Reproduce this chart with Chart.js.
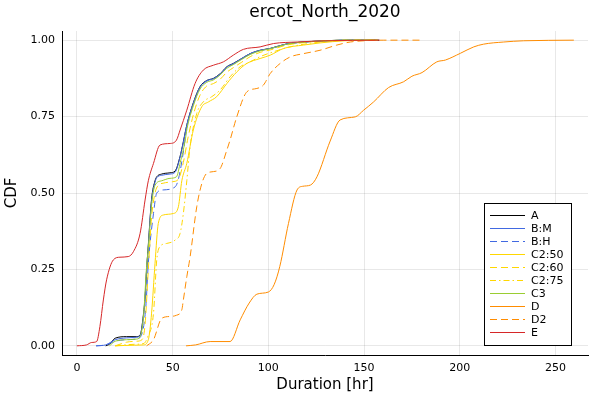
<!DOCTYPE html>
<html>
<head>
<meta charset="utf-8">
<script src="https://cdn.jsdelivr.net/npm/chart.js@4"></script>
<style>
html,body{margin:0;padding:0;background:#fff;}
#wrap{width:600px;height:400px;position:relative;}
</style>
</head>
<body>
<div id="wrap"><canvas id="c" width="600" height="400"></canvas></div>
<script>
const titleText = "ercot_North_2020";
const xTicks = [0, 50, 100, 150, 200, 250];
const yTicks = [0, 0.25, 0.5, 0.75, 1.0];

const seriesNames = ["A", "B:M", "B:H", "C2:50", "C2:60", "C2:75", "C3", "D", "D2", "E"];

const A_x = [15, 17, 20, 26, 31, 33, 34.7, 35.6, 36.4, 37.3, 39, 40.8, 41.7, 44.3, 48.6, 51.3, 53.9, 55.5, 57.5, 60.8, 64.3, 67.8, 71.3, 74.8, 78.3, 81.7, 86.1, 90.5, 95.7, 101, 109.7, 118.4, 127, 140, 158];
const A_y = [0, 0.005, 0.025, 0.03, 0.03, 0.035, 0.1, 0.16, 0.25, 0.33, 0.48, 0.54, 0.553, 0.562, 0.566, 0.572, 0.62, 0.665, 0.725, 0.795, 0.848, 0.868, 0.875, 0.89, 0.913, 0.924, 0.94, 0.956, 0.967, 0.973, 0.988, 0.994, 0.997, 1.0, 1.0];

const BM_x = [10, 15, 20, 26, 31, 33, 34.7, 35.6, 36.4, 37.3, 39, 40.8, 41.7, 44.3, 48.6, 51.3, 53.9, 55.5, 57.5, 60.8, 64.3, 67.8, 71.3, 74.8, 78.3, 81.7, 86.1, 90.5, 95.7, 101, 109.7, 118.4, 127, 140, 157];
const BM_y = [0, 0.003, 0.02, 0.026, 0.028, 0.033, 0.095, 0.155, 0.245, 0.325, 0.475, 0.535, 0.55, 0.558, 0.562, 0.568, 0.618, 0.663, 0.724, 0.793, 0.846, 0.867, 0.874, 0.889, 0.912, 0.923, 0.94, 0.956, 0.967, 0.973, 0.988, 0.994, 0.997, 1.0, 1.0];

const BH_x = [10, 15, 20, 26, 31, 34, 36, 37.3, 40, 41.7, 45, 51.3, 53, 55.5, 57.5, 60.8, 64.3, 67.8, 71.3, 74.8, 78.3, 81.7, 86.1, 90.5, 95.7, 101, 109.7, 118.4, 127, 140, 156];
const BH_y = [0, 0.003, 0.015, 0.02, 0.022, 0.04, 0.128, 0.27, 0.433, 0.5, 0.51, 0.52, 0.545, 0.63, 0.72, 0.79, 0.845, 0.866, 0.873, 0.888, 0.911, 0.922, 0.939, 0.955, 0.966, 0.972, 0.987, 0.994, 0.997, 1.0, 1.0];

const C250_x = [20, 30, 34.7, 37.3, 39, 40.8, 42.5, 45.1, 50.4, 53, 54.8, 57.4, 60.8, 65.2, 68.7, 73, 78.3, 83.5, 88.8, 95.7, 101, 108, 118.4, 127, 140, 157];
const C250_y = [0, 0.002, 0.003, 0.02, 0.107, 0.27, 0.4, 0.428, 0.433, 0.455, 0.54, 0.597, 0.706, 0.782, 0.798, 0.815, 0.858, 0.896, 0.924, 0.94, 0.951, 0.973, 0.984, 0.991, 0.998, 1];

const C260_x = [20, 26, 31, 34, 35.6, 37.3, 39, 40.8, 42.5, 45, 50, 53, 55.6, 58, 61, 64.3, 67.8, 71.3, 74.8, 78.3, 81.7, 86.1, 90.5, 95.7, 101, 109.7, 118.4, 130, 145, 157];
const C260_y = [0, 0.012, 0.015, 0.02, 0.07, 0.25, 0.42, 0.5, 0.525, 0.532, 0.537, 0.545, 0.6, 0.68, 0.76, 0.82, 0.85, 0.858, 0.872, 0.895, 0.91, 0.928, 0.946, 0.96, 0.968, 0.984, 0.992, 0.998, 1, 1];

const C275_x = [20, 30, 35, 37, 40, 41.7, 43.4, 46.9, 51.3, 53.9, 55.6, 57.4, 59.1, 62.6, 66, 70.4, 74.8, 80, 85.3, 90.5, 95.7, 102.7, 111.4, 122, 135, 145, 157];
const C275_y = [0, 0.005, 0.008, 0.03, 0.107, 0.281, 0.325, 0.335, 0.346, 0.368, 0.433, 0.54, 0.651, 0.76, 0.798, 0.815, 0.837, 0.88, 0.913, 0.929, 0.946, 0.962, 0.978, 0.99, 0.998, 1, 1];

const C3_x = [17, 20, 26, 31, 33, 34.7, 36.4, 37.3, 39, 40.8, 44.3, 48.6, 52, 54, 56.5, 57.5, 60.8, 64.3, 67.8, 71.3, 74.8, 78.3, 81.7, 86.1, 90.5, 95.7, 101, 109.7, 118.4, 127, 140, 157];
const C3_y = [0, 0.015, 0.02, 0.022, 0.03, 0.09, 0.26, 0.32, 0.46, 0.525, 0.54, 0.548, 0.553, 0.6, 0.67, 0.71, 0.785, 0.84, 0.862, 0.87, 0.886, 0.908, 0.92, 0.937, 0.953, 0.965, 0.972, 0.987, 0.994, 0.997, 1, 1];

const D_x = [57, 62, 69.6, 80, 85.3, 90, 94, 100, 103, 106, 110.5, 115, 118, 122, 125.4, 132.3, 137.5, 145.4, 149.8, 155, 162.8, 170.7, 175, 180.3, 188, 192.5, 200.3, 207.3, 212.5, 223, 233.4, 259.6];
const D_y = [0, 0.003, 0.014, 0.014, 0.085, 0.14, 0.169, 0.176, 0.2, 0.26, 0.4, 0.51, 0.522, 0.526, 0.553, 0.67, 0.739, 0.749, 0.771, 0.798, 0.845, 0.864, 0.882, 0.894, 0.929, 0.935, 0.957, 0.978, 0.987, 0.994, 0.998, 1.0];

const D2_x = [36.4, 40, 44.3, 48.6, 52, 54.8, 55.6, 57.4, 59.1, 62.6, 65.2, 67.8, 71.3, 74.8, 78.3, 80, 83.5, 88.8, 94, 97.4, 101, 106.2, 111.4, 118.4, 127, 135.8, 142.8, 150, 160, 181];
const D2_y = [0, 0.02, 0.09, 0.096, 0.1, 0.118, 0.15, 0.226, 0.29, 0.455, 0.53, 0.564, 0.57, 0.58, 0.64, 0.673, 0.749, 0.831, 0.842, 0.853, 0.891, 0.924, 0.945, 0.956, 0.967, 0.984, 0.994, 0.998, 1, 1];

const E_x = [0, 5, 7.7, 10.3, 12, 13.8, 15.5, 19, 22.5, 26.8, 29.5, 33, 35.6, 37.3, 40, 43.4, 48.6, 52, 53.9, 57.4, 61.7, 66, 71.3, 76.5, 81.7, 87, 95.7, 102.7, 115, 130, 158];
const E_y = [0, 0.003, 0.011, 0.014, 0.063, 0.15, 0.216, 0.281, 0.29, 0.292, 0.308, 0.368, 0.477, 0.54, 0.597, 0.657, 0.662, 0.673, 0.706, 0.771, 0.858, 0.902, 0.918, 0.929, 0.951, 0.97, 0.978, 0.989, 0.994, 0.998, 1.0];

function pts(xs, ys) { return xs.map((x, i) => ({x: x, y: ys[i]})); }

const FONT = "'DejaVu Sans', sans-serif";
const styles = [
  {c: '#000000', d: []},
  {c: '#4169E1', d: []},
  {c: '#4169E1', d: [7, 4]},
  {c: '#FFD700', d: []},
  {c: '#FFD700', d: [7, 4]},
  {c: '#FFD700', d: [6, 3, 1.5, 3]},
  {c: '#9ACD32', d: []},
  {c: '#FF8C00', d: []},
  {c: '#FF8C00', d: [7, 4]},
  {c: '#D62728', d: []}
];
const data = [
  [A_x, A_y], [BM_x, BM_y], [BH_x, BH_y], [C250_x, C250_y], [C260_x, C260_y],
  [C275_x, C275_y], [C3_x, C3_y], [D_x, D_y], [D2_x, D2_y], [E_x, E_y]
];

const datasets = seriesNames.map((n, i) => ({
  label: n,
  data: pts(data[i][0], data[i][1]),
  borderColor: styles[i].c,
  borderDash: styles[i].d,
  borderWidth: 1,
  pointRadius: 0,
  fill: false,
  order: seriesNames.length - i,
  cubicInterpolationMode: 'monotone'
}));

const legendPlugin = {
  id: 'boxLegend',
  afterDraw(chart) {
    const ctx = chart.ctx;
    const x0 = 484, y0 = 203, w = 87, h = 142;
    ctx.save();
    ctx.fillStyle = '#fff';
    ctx.fillRect(x0, y0, w, h);
    ctx.strokeStyle = '#000';
    ctx.lineWidth = 1;
    ctx.strokeRect(x0 + 0.5, y0 + 0.5, w, h);
    ctx.font = "11px " + FONT;
    ctx.textBaseline = 'middle';
    chart.data.datasets.forEach((ds, i) => {
      const y = 215 + i * 13;
      ctx.beginPath();
      ctx.strokeStyle = ds.borderColor;
      ctx.setLineDash(ds.borderDash || []);
      ctx.moveTo(490, y + 0.5);
      ctx.lineTo(525, y + 0.5);
      ctx.stroke();
      ctx.setLineDash([]);
      ctx.fillStyle = '#000';
      ctx.fillText(ds.label, 531, y + 1);
    });
    ctx.restore();
  }
};

const titlePlugin = {
  id: 'plotTitle',
  afterDraw(chart) {
    const ctx = chart.ctx;
    const a = chart.chartArea;
    ctx.save();
    ctx.font = "17px " + FONT;
    ctx.fillStyle = '#000';
    ctx.textAlign = 'center';
    ctx.textBaseline = 'middle';
    ctx.fillText(titleText, (a.left + a.right) / 2, 13);
    ctx.restore();
  }
};

new Chart(document.getElementById('c'), {
  type: 'line',
  data: {datasets: datasets},
  options: {
    responsive: false,
    animation: false,
    parsing: true,
    layout: {padding: {top: 31, right: 12, left: 0, bottom: 0}},
    plugins: {legend: {display: false}, tooltip: {enabled: false}, title: {display: false}},
    scales: {
      x: {
        type: 'linear',
        min: -7.8,
        max: 267,
        afterBuildTicks: s => { s.ticks = xTicks.map(v => ({value: v})); },
        afterFit: s => { s.height = 45; },
        grid: {color: 'rgba(0,0,0,0.09)', drawTicks: false},
        border: {color: '#000', width: 1},
        ticks: {color: '#000', font: {family: FONT, size: 11}, padding: 7, autoSkip: false, maxRotation: 0,
          callback: v => String(v)},
        title: {display: true, text: 'Duration [hr]', color: '#000', font: {family: FONT, size: 15}, padding: {top: 4, bottom: 6}}
      },
      y: {
        type: 'linear',
        min: -0.03,
        max: 1.03,
        afterBuildTicks: s => { s.ticks = yTicks.map(v => ({value: v})); },
        afterFit: s => { s.width = 62; },
        grid: {color: 'rgba(0,0,0,0.09)', drawTicks: false},
        border: {color: '#000', width: 1},
        ticks: {color: '#000', font: {family: FONT, size: 11}, padding: 7, autoSkip: false,
          callback: v => Number(v).toFixed(2)},
        title: {display: true, text: 'CDF', color: '#000', font: {family: FONT, size: 15}, padding: {top: 3, bottom: 3}}
      }
    }
  },
  plugins: [legendPlugin, titlePlugin]
});
</script>
</body>
</html>
